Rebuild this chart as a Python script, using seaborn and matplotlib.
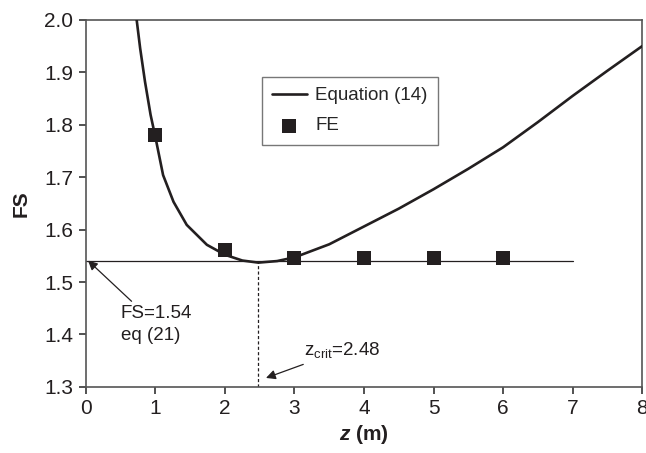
import numpy as np
import pandas as pd
import matplotlib
matplotlib.use("Agg")
import matplotlib.pyplot as plt
import seaborn as sns

# Curva da Equation (14)
z_eq = [0.73, 0.78, 0.85, 0.93, 1.0, 1.11, 1.26, 1.45, 1.74, 2.0, 2.25, 2.48,
        2.75, 3.0, 3.5, 4.0, 4.5, 5.0, 5.5, 6.0, 6.5, 7.0, 7.5, 8.0]
fs_eq = [2.0, 1.946, 1.882, 1.819, 1.776, 1.704, 1.653, 1.609, 1.571, 1.552,
         1.541, 1.537, 1.540, 1.547, 1.572, 1.606, 1.640, 1.677, 1.716,
         1.757, 1.805, 1.855, 1.903, 1.95]

# Resultados FE
z_fe = [1, 2, 3, 4, 5, 6]
fs_fe = [1.78, 1.562, 1.546, 1.546, 1.546, 1.546]

fs_min = 1.54
z_crit = 2.48

sns.set_theme(style="ticks")
plt.rcParams['font.family'] = ['Liberation Sans', 'DejaVu Sans']
plt.rcParams['mathtext.fontset'] = 'custom'
plt.rcParams['mathtext.rm'] = 'Liberation Sans'
plt.rcParams['mathtext.it'] = 'Liberation Sans:italic:bold'
plt.rcParams['mathtext.bf'] = 'Liberation Sans:bold'

ink = "#231f20"
df_eq = pd.DataFrame({"z": z_eq, "FS": fs_eq})
df_fe = pd.DataFrame({"z": z_fe, "FS": fs_fe})

fig = plt.figure(figsize=(6.46, 4.53), dpi=100)
ax = fig.add_axes([0.133, 0.146, 0.861, 0.810])

ax.plot([0, 7], [fs_min, fs_min], color=ink, lw=0.9, zorder=2)
ax.plot([z_crit, z_crit], [1.3, fs_min], color=ink, lw=0.9, ls=(0, (2.5, 1.8)), zorder=2)

sns.lineplot(data=df_eq, x="z", y="FS", ax=ax, color=ink, lw=1.9,
             sort=False, label="Equation (14)", zorder=3)
sns.scatterplot(data=df_fe, x="z", y="FS", ax=ax, color=ink, marker="s",
                s=110, edgecolor=ink, linewidth=0, label="FE", zorder=4)

ax.set_xlim(0, 8)
ax.set_ylim(1.3, 2.0)
ax.set_xticks(range(0, 9))
ax.set_yticks(np.arange(1.3, 2.01, 0.1))
ax.set_yticklabels([f"{v:.1f}" for v in np.arange(1.3, 2.01, 0.1)])
ax.tick_params(axis="both", labelsize=15, direction="out", length=5,
               width=1.2, color="#333333", labelcolor=ink, pad=4)
ax.tick_params(top=False, right=False)
for sp in ax.spines.values():
    sp.set_visible(True)
    sp.set_color("#555555")
    sp.set_linewidth(1.2)

ax.set_xlabel(r"$z$ (m)", fontsize=15, fontweight="bold", color=ink, labelpad=3)
ax.set_ylabel("FS", fontsize=15, fontweight="bold", color=ink, labelpad=10)

ax.annotate("FS=1.54\neq (21)", xy=(0.03, 1.541), xytext=(0.5, 1.457),
            fontsize=13.5, color=ink, ha="left", va="top", linespacing=1.45,
            arrowprops=dict(arrowstyle="-|>", color=ink, lw=0.9,
                            mutation_scale=14, shrinkA=0, shrinkB=0))
ax.annotate(r"z$_{\rm crit}$=2.48", xy=(2.59, 1.317), xytext=(3.14, 1.37),
            fontsize=13.5, color=ink, ha="left", va="center",
            arrowprops=dict(arrowstyle="-|>", color=ink, lw=0.9,
                            mutation_scale=14, shrinkA=2, shrinkB=0))

leg = ax.legend(loc="upper left", bbox_to_anchor=(0.316, 0.845), fontsize=13.5,
                frameon=True, fancybox=False, edgecolor="#555555",
                borderpad=0.55, handlelength=1.85, labelspacing=0.7,
                handletextpad=0.45, borderaxespad=0)
leg.get_frame().set_linewidth(1.0)

fig.savefig("out.png", dpi=100)
